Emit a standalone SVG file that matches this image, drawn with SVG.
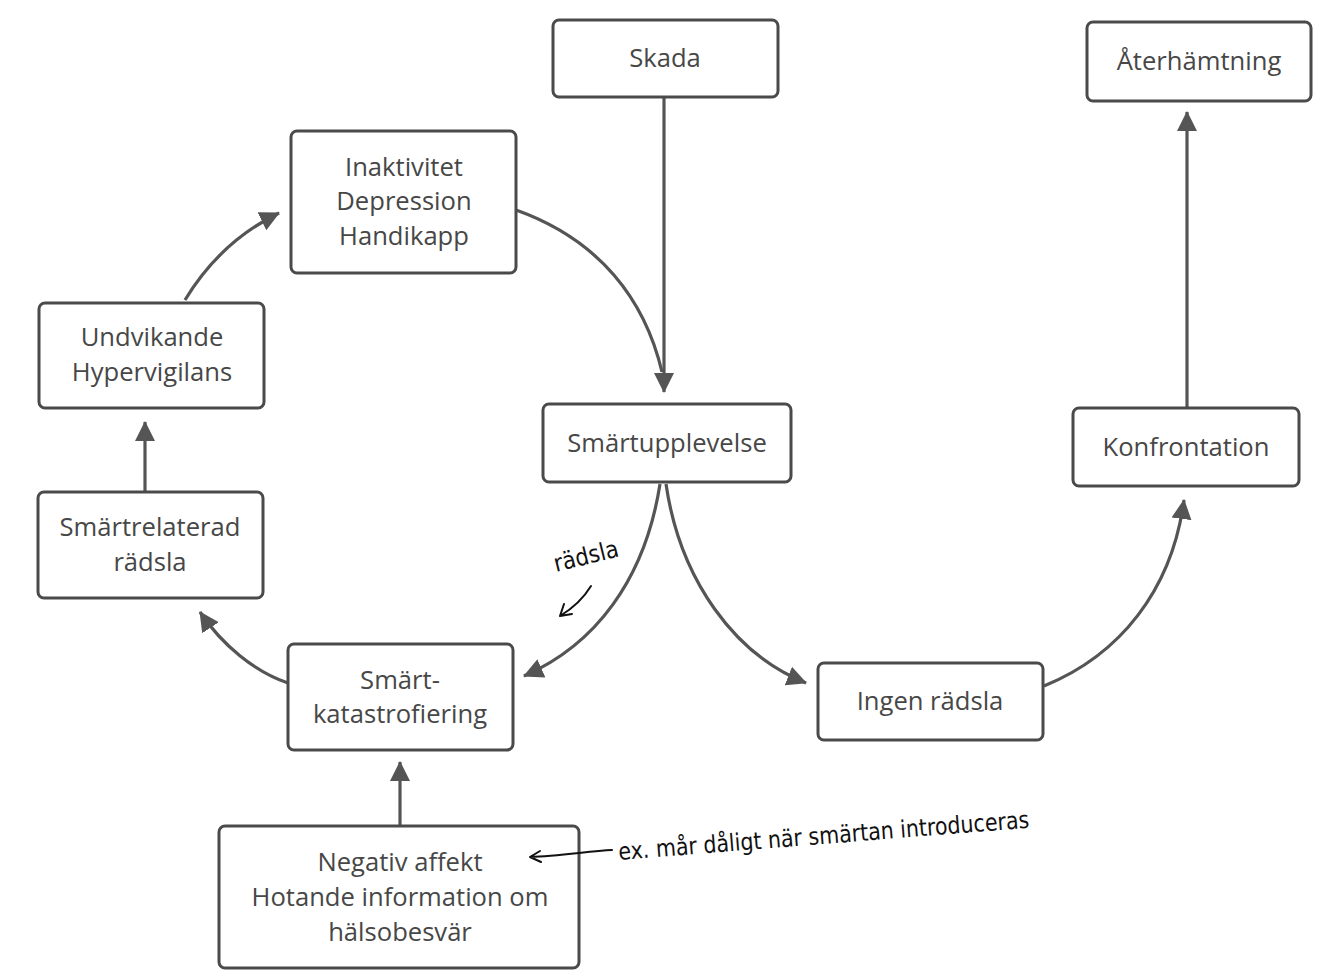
<svg xmlns="http://www.w3.org/2000/svg" width="1344" height="978" viewBox="0 0 1344 978">
<style>
.box{fill:#fff;stroke:#4a4a4a;stroke-width:3}
.lbl{font-family:"Open Sans","Noto Sans",sans-serif;font-size:25.6px;fill:#474747;text-anchor:middle}
.con{fill:none;stroke:#555;stroke-width:3.2}
.hw{font-family:"DejaVu Sans Condensed","DejaVu Sans",sans-serif;font-size:24px;fill:#111;font-weight:300}
.hwl{fill:none;stroke:#111;stroke-width:2;stroke-linecap:round;stroke-linejoin:round}
</style>
<defs>
<marker id="ah" markerUnits="userSpaceOnUse" markerWidth="22" markerHeight="22" refX="19" refY="10" orient="auto" viewBox="0 0 22 20">
<path d="M0,0 L20,10 L0,20 z" fill="#555"/>
</marker>
</defs>
<rect width="1344" height="978" fill="#fff"/>
<g id="connectors">
<path class="con" d="M664,97 L664,392" marker-end="url(#ah)"/>
<path class="con" d="M516,210 C600,240 645,300 662,372"/>
<path class="con" d="M660,484 C645,580 595,645 524,676" marker-end="url(#ah)"/>
<path class="con" d="M666,484 C680,580 735,655 806,683" marker-end="url(#ah)"/>
<path class="con" d="M1044,686 C1120,655 1172,590 1184,500" marker-end="url(#ah)"/>
<path class="con" d="M1187,408 L1187,112" marker-end="url(#ah)"/>
<path class="con" d="M288,683 C255,672 222,645 200,612" marker-end="url(#ah)"/>
<path class="con" d="M145,491 L145,422" marker-end="url(#ah)"/>
<path class="con" d="M185,300 C208,262 240,232 279,213" marker-end="url(#ah)"/>
<path class="con" d="M400,826 L400,762" marker-end="url(#ah)"/>
</g>
<g id="skada"><rect class="box" x="553" y="20" width="225" height="77" rx="6"/><text class="lbl" x="665" y="67">Skada</text></g>
<g id="aterhamtning"><rect class="box" x="1087" y="22" width="224" height="79" rx="6"/><text class="lbl" x="1199" y="70">Återhämtning</text></g>
<g id="inaktivitet"><rect class="box" x="291" y="131" width="225" height="142" rx="6"/><text class="lbl" x="404" y="176">Inaktivitet</text><text class="lbl" x="404" y="210">Depression</text><text class="lbl" x="404" y="245">Handikapp</text></g>
<g id="undvikande"><rect class="box" x="39" y="303" width="225" height="105" rx="6"/><text class="lbl" x="152" y="346">Undvikande</text><text class="lbl" x="152" y="381">Hypervigilans</text></g>
<g id="smartupplevelse"><rect class="box" x="543" y="404" width="248" height="78" rx="6"/><text class="lbl" x="667" y="452">Smärtupplevelse</text></g>
<g id="konfrontation"><rect class="box" x="1073" y="408" width="226" height="78" rx="6"/><text class="lbl" x="1186" y="456">Konfrontation</text></g>
<g id="smartrelaterad"><rect class="box" x="38" y="492" width="225" height="106" rx="6"/><text class="lbl" x="150" y="536">Smärtrelaterad</text><text class="lbl" x="150" y="571">rädsla</text></g>
<g id="katastrofiering"><rect class="box" x="288" y="644" width="225" height="106" rx="6"/><text class="lbl" x="400" y="689">Smärt-</text><text class="lbl" x="400" y="723">katastrofiering</text></g>
<g id="ingen"><rect class="box" x="818" y="663" width="225" height="77" rx="6"/><text class="lbl" x="930" y="710">Ingen rädsla</text></g>
<g id="negativ"><rect class="box" x="219" y="826" width="360" height="142" rx="6"/><text class="lbl" x="400" y="871">Negativ affekt</text><text class="lbl" x="400" y="906">Hotande information om</text><text class="lbl" x="400" y="941">hälsobesvär</text></g>
<g id="annotations">
<text class="hw" x="0" y="0" transform="translate(556,572) rotate(-14)" textLength="66" lengthAdjust="spacingAndGlyphs">rädsla</text>
<path class="hwl" d="M591,586 Q580,604 560,616 M560,616 L564,604 M560,616 L572,614"/>
<text class="hw" x="0" y="0" transform="translate(619,860) rotate(-4.5)" textLength="412" lengthAdjust="spacingAndGlyphs">ex. mår dåligt när smärtan introduceras</text>
<path class="hwl" d="M612,850 C590,851 560,856 530,857 M530,857 L540,851 M530,857 L541,862"/>
</g>
</svg>
